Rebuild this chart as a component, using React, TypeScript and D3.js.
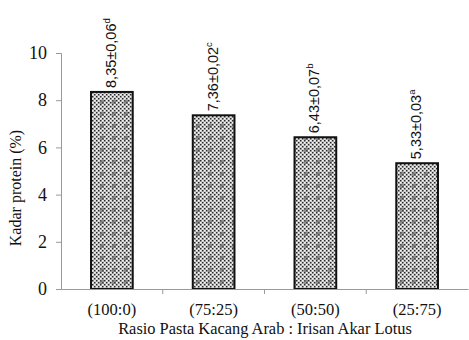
import React, { useEffect, useRef } from "react";
import * as d3 from "d3";

const categories = ["(100:0)", "(75:25)", "(50:50)", "(25:75)"];
const values = [8.35, 7.36, 6.43, 5.33];
const valueLabels = ["8,35±0,06", "7,36±0,02", "6,43±0,07", "5,33±0,03"];
const letters = ["d", "c", "b", "a"];
const yTicks = [0, 2, 4, 6, 8, 10];

const SERIF = "'Liberation Serif', 'Times New Roman', serif";
const SANS = "'Liberation Sans Narrow', 'Arial Narrow', 'Liberation Sans', sans-serif";

const App: React.FC = () => {
  const ref = useRef<SVGSVGElement | null>(null);

  useEffect(() => {
    const svg = d3.select(ref.current);
    svg.selectAll("*").remove();

    const width = 469;
    const height = 340;
    const margin = { top: 53, right: 1, bottom: 51, left: 61 };

    const x = d3
      .scaleBand()
      .domain(categories)
      .range([margin.left, width - margin.right])
      .paddingInner(0.59)
      .paddingOuter(0.295);

    const y = d3
      .scaleLinear()
      .domain([0, 10])
      .range([height - margin.bottom, margin.top]);

    // crosshatch fill
    const defs = svg.append("defs");
    const pat = defs
      .append("pattern")
      .attr("id", "hatch")
      .attr("patternUnits", "userSpaceOnUse")
      .attr("width", 12)
      .attr("height", 12);
    pat.append("rect").attr("width", 12).attr("height", 12).attr("fill", "#c4c4c4");
    for (let i = 0; i < 12; i += 2) {
      for (let j = 0; j < 12; j += 2) {
        const dark = (i / 2 + j / 2) % 2 === 0;
        pat
          .append("rect")
          .attr("x", i)
          .attr("y", j)
          .attr("width", 1.4)
          .attr("height", 1.4)
          .attr("fill", dark ? "#2a2a2a" : "#f4f4f4");
      }
    }
    pat
      .append("rect")
      .attr("x", 4)
      .attr("y", 4)
      .attr("width", 4)
      .attr("height", 4)
      .attr("fill", "#5a5a5a")
      .attr("opacity", 0.6);

    const g = svg.append("g");

    g.selectAll(".bar")
      .data(values)
      .enter()
      .append("rect")
      .attr("class", "bar")
      .attr("x", (d, i) => x(categories[i]) || 0)
      .attr("y", (d) => y(d))
      .attr("width", x.bandwidth())
      .attr("height", (d) => y(0) - y(d))
      .attr("fill", "url(#hatch)")
      .attr("stroke", "#111")
      .attr("stroke-width", 2);

    // value labels
    const lbl = g
      .selectAll(".lbl")
      .data(values)
      .enter()
      .append("text")
      .attr("class", "lbl")
      .attr(
        "transform",
        (d, i) =>
          `translate(${(x(categories[i]) || 0) + x.bandwidth() / 2 + 4},${y(d) - 4}) rotate(-90)`
      )
      .style("font-family", SANS)
      .style("font-size", "14.5px")
      .attr("fill", "#111");
    lbl.append("tspan").text((d, i) => valueLabels[i]);
    lbl
      .append("tspan")
      .attr("dy", -6)
      .style("font-size", "9.5px")
      .text((d, i) => letters[i]);

    // x axis
    const xAxis = g
      .append("g")
      .attr("transform", `translate(0,${y(0)})`)
      .call(d3.axisBottom(x).tickSize(0).tickPadding(14));
    xAxis.select(".domain").attr("stroke", "#999");
    xAxis
      .selectAll(".tick text")
      .style("font-family", SERIF)
      .style("font-size", "16.5px")
      .attr("fill", "#111");

    // x tick marks between categories
    const step = x.step();
    const boundaries = d3
      .range(1, categories.length)
      .map((i) => (x(categories[i]) || 0) - (step - x.bandwidth()) / 2);
    g.selectAll(".xtick")
      .data(boundaries)
      .enter()
      .append("line")
      .attr("x1", (d) => d)
      .attr("x2", (d) => d)
      .attr("y1", y(0))
      .attr("y2", y(0) + 5)
      .attr("stroke", "#999");

    // y axis
    const yAxis = g
      .append("g")
      .attr("transform", `translate(${margin.left},0)`)
      .call(d3.axisLeft(y).tickValues(yTicks).tickSize(5).tickPadding(9));
    yAxis.selectAll("line, .domain").attr("stroke", "#999");
    yAxis
      .selectAll(".tick text")
      .style("font-family", SERIF)
      .style("font-size", "18px")
      .attr("fill", "#111");

    svg
      .append("text")
      .attr("x", 265)
      .attr("y", 334)
      .attr("text-anchor", "middle")
      .style("font-family", SERIF)
      .style("font-size", "16.4px")
      .attr("fill", "#111")
      .text("Rasio Pasta Kacang Arab : Irisan Akar Lotus");

    svg
      .append("text")
      .attr("transform", "rotate(-90)")
      .attr("x", -188)
      .attr("y", 21)
      .attr("text-anchor", "middle")
      .style("font-family", SERIF)
      .style("font-size", "16px")
      .attr("fill", "#111")
      .text("Kadar protein (%)");
  }, []);

  return (
    <svg
      ref={ref}
      width="469"
      height="340"
      style={{ position: "absolute", left: 0, top: 0, background: "#fff" }}
    ></svg>
  );
};

export default App;
